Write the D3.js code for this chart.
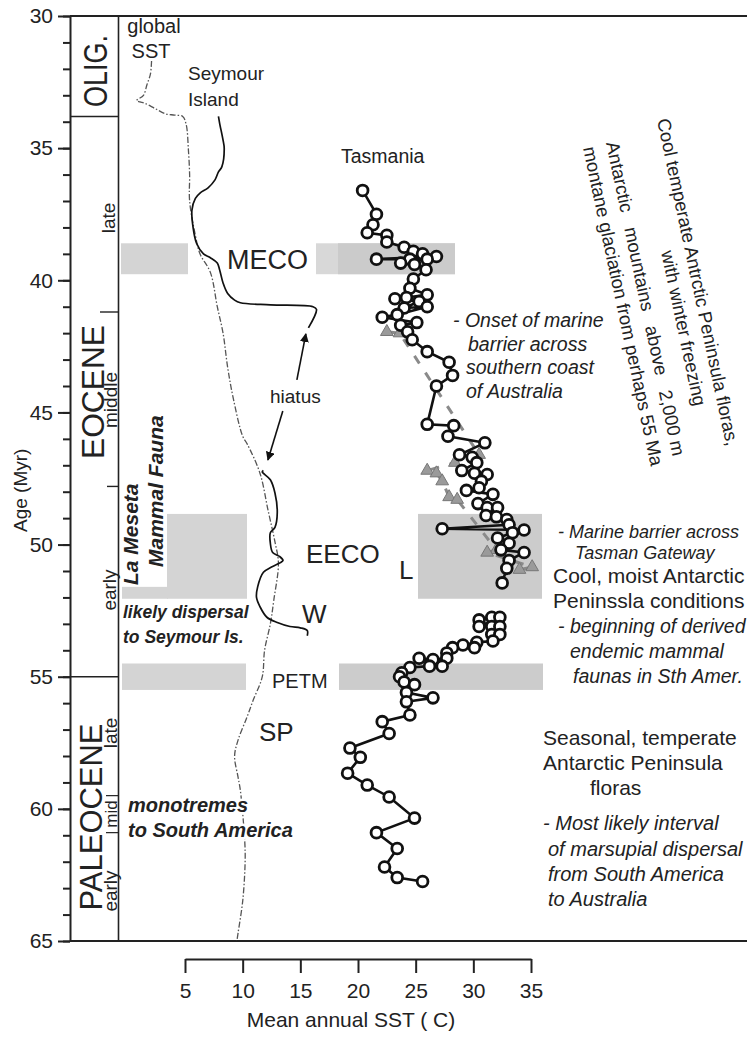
<!DOCTYPE html>
<html>
<head>
<meta charset="utf-8">
<script src="https://cdn.jsdelivr.net/npm/d3@7"></script>
<style>
  body { margin: 0; background: #fff; }
  svg { display: block; font-family: "Liberation Sans", Arial, sans-serif; }
</style>
</head>
<body>
<div id="chart"></div>
<script>
// axis ticks
const ageTicks = [30, 35, 40, 45, 50, 55, 60, 65];
const sstTicks = [5, 10, 15, 20, 25, 30, 35];

// [temperature C, age Myr]
const globalSST = [[2.1,31.7],[2.0,32.2],[1.7,32.6],[1.4,33.0],[0.8,33.2],[1.1,33.25],[1.5,33.3],[2.4,33.5],[3.3,33.7],[4.1,33.75],[4.8,33.8],[5.1,34.1],[5.3,35.1],[5.4,36.0],[5.4,37.0],[5.9,38.3],[6.3,39.0],[7.2,39.7],[7.8,41.0],[8.3,42.0],[8.7,43.3],[9.2,44.5],[10.0,45.9],[10.4,46.2],[11.5,47.3],[12.2,48.7],[12.8,49.9],[13.1,50.7],[12.7,52.1],[12.4,53.0],[11.9,54.0],[11.7,55.0],[10.9,55.9],[10.4,56.5],[9.6,57.4],[9.3,58.0],[9.6,58.8],[9.8,59.3],[10.2,61.4],[10.2,62.2],[10.0,63.5],[9.6,64.7],[9.5,65.0]];

const seymourLate = [[7.9,33.8],[8.0,34.05],[8.3,34.7],[8.4,35.0],[8.2,35.7],[7.9,35.9],[7.6,36.2],[7.0,36.5],[6.3,36.7],[5.9,36.9],[5.6,37.35],[5.7,38.0],[6.0,38.6],[6.6,39.0],[7.2,39.15],[7.8,39.35],[8.0,39.6],[8.3,40.1],[8.7,40.5],[9.3,40.75],[9.8,40.85],[12.4,40.93],[16.1,41.0],[16.4,41.1],[15.7,41.8]];
const seymourEarly = [[11.8,47.2],[11.7,47.25],[12.4,47.55],[12.8,48.05],[13.0,48.8],[12.8,49.35],[12.4,49.55],[12.4,49.95],[12.6,50.3],[13.2,50.45],[13.5,50.6],[13.2,50.7],[12.5,50.85],[11.8,51.05],[11.3,51.6],[11.2,52.0],[11.5,52.35],[12.1,52.75],[13.0,52.95],[14.1,53.1],[15.0,53.15],[15.6,53.25],[15.6,53.45]];

const tasmaniaUpper = [[20.4,36.6],[21.6,37.5],[21.3,37.9],[20.8,38.2],[22.5,38.3],[22.5,38.55],[24.0,38.75],[24.8,38.9],[25.6,39.0],[26.8,39.1],[21.6,39.2],[24.5,39.2],[26.0,39.2],[23.7,39.35],[24.9,39.4],[25.9,39.6],[24.8,39.95],[24.5,40.3],[26.0,40.55],[24.2,40.65],[23.2,40.7],[25.3,40.8],[24.0,41.05],[26.0,41.0],[23.4,41.3],[22.1,41.4],[25.1,41.6],[23.7,41.7],[24.3,41.95],[24.7,42.25],[26.0,42.7],[27.9,43.1],[28.2,43.6],[26.8,44.0],[26.0,45.45],[28.3,45.5],[27.8,45.9],[31.0,46.15],[28.8,46.6],[29.9,46.7],[30.3,46.9],[29.0,47.2],[30.1,47.3],[31.2,47.35],[30.7,47.6],[30.5,47.85],[29.4,47.95],[31.7,48.1],[30.4,48.45],[31.2,48.6],[32.1,48.6],[31.1,48.9],[32.0,48.95],[32.9,49.05],[33.1,49.25],[27.3,49.4],[34.4,49.45],[33.4,49.55],[32.1,49.75],[33.1,49.95],[32.4,50.2],[34.4,50.3],[33.1,50.6],[32.9,50.9],[32.5,51.45]];
const tasmaniaLower = [[30.5,52.85],[31.6,52.75],[32.3,52.75],[30.5,53.1],[31.6,53.1],[32.3,53.1],[31.6,53.4],[32.3,53.4],[31.7,53.65],[30.3,53.7],[29.1,53.8],[30.1,53.9],[28.2,53.9],[27.7,54.1],[27.7,54.3],[26.5,54.35],[25.3,54.3],[27.3,54.6],[26.2,54.6],[24.5,54.65],[23.8,54.85],[23.6,55.0],[24.0,55.2],[24.9,55.3],[24.2,55.6],[26.5,55.8],[24.2,55.95],[24.5,56.45],[22.1,56.7],[22.7,57.15],[19.3,57.7],[20.2,58.05],[19.1,58.65],[20.8,59.1],[22.7,59.55],[24.9,60.35],[21.6,60.9],[23.4,61.5],[22.3,62.2],[23.4,62.6],[25.6,62.75]];

const tasmaniaTri = [[22.5,41.95],[23.6,42.0],[30.5,46.6],[28.4,46.9],[26.0,47.2],[26.8,47.3],[27.3,47.6],[27.9,48.2],[28.6,48.3],[32.0,50.2],[31.2,50.3],[35.1,50.85],[34.0,50.95]];

// climatic events (age ranges, Myr)
const bandMECO = [38.6, 39.77];
const bandEECO = [48.84, 52.05];
const bandPETM = [54.5, 55.5];

// epoch column
const epochLines = [33.8, 55];
const subEpochLines = [41.2, 47.8];
const paleoMidLines = [59.5, 60.9];

const width = 747, height = 1037;
const svg = d3.select('#chart').append('svg')
    .attr('width', width)
    .attr('height', height);

const x = d3.scaleLinear([5, 35], [185, 531]);
const y = d3.scaleLinear([30, 65], [16, 941]);
const ink = '#222';

// grey bands, left column
const bandFill = '#d4d4d4';
svg.append('rect').attr('x', 121).attr('width', 67)
    .attr('y', y(bandMECO[0])).attr('height', y(bandMECO[1]) - y(bandMECO[0])).attr('fill', bandFill);
svg.append('rect').attr('x', 167).attr('width', 80)
    .attr('y', y(bandEECO[0])).attr('height', y(bandEECO[1]) - y(bandEECO[0])).attr('fill', bandFill);
svg.append('rect').attr('x', 122).attr('width', 46)
    .attr('y', y(51.6)).attr('height', y(bandEECO[1]) - y(51.6)).attr('fill', bandFill);
svg.append('rect').attr('x', 122).attr('width', 124)
    .attr('y', y(bandPETM[0])).attr('height', y(bandPETM[1]) - y(bandPETM[0])).attr('fill', bandFill);

// grey bands, Tasmania column
svg.append('rect').attr('x', 316).attr('width', 139)
    .attr('y', y(bandMECO[0])).attr('height', y(bandMECO[1]) - y(bandMECO[0])).attr('fill', '#d8d8d8');
svg.append('rect').attr('x', 338).attr('width', 117)
    .attr('y', y(bandMECO[0])).attr('height', y(bandMECO[1]) - y(bandMECO[0])).attr('fill', '#cbcbcb');
svg.append('rect').attr('x', 418).attr('width', 124)
    .attr('y', y(bandEECO[0])).attr('height', y(bandEECO[1]) - y(bandEECO[0])).attr('fill', '#cccccc');
svg.append('rect').attr('x', 339).attr('width', 204)
    .attr('y', y(bandPETM[0])).attr('height', y(bandPETM[1]) - y(bandPETM[0])).attr('fill', '#cccccc');

// frame
svg.append('line').attr('x1', 70).attr('x2', 747).attr('y1', y(30)).attr('y2', y(30))
    .attr('stroke', ink).attr('stroke-width', 2);
svg.append('line').attr('x1', 70).attr('x2', 747).attr('y1', y(65)).attr('y2', y(65))
    .attr('stroke', ink).attr('stroke-width', 2);

// Y axis
svg.append('g')
    .attr('transform', 'translate(70,0)')
    .call(d3.axisLeft(y).tickValues(d3.range(30, 66)).tickSize(7).tickSizeOuter(0).tickFormat(''))
    .call(g => g.selectAll('line,path').attr('stroke', ink).attr('stroke-width', 2));
svg.append('g')
    .attr('transform', 'translate(70,0)')
    .call(d3.axisLeft(y).tickValues(ageTicks).tickSize(12).tickPadding(5).tickSizeOuter(0))
    .call(g => g.select('.domain').remove())
    .call(g => g.selectAll('line').attr('stroke', ink).attr('stroke-width', 2))
    .call(g => g.selectAll('text').attr('font-size', 21).attr('fill', ink)
        .attr('font-family', '"Liberation Sans", Arial, sans-serif'));

svg.append('text')
    .attr('transform', 'translate(27,532) rotate(-90)')
    .attr('font-size', 19).attr('fill', ink)
    .text('Age (Myr)');

// X axis
svg.append('g')
    .attr('transform', 'translate(0,959)')
    .call(d3.axisBottom(x).tickValues(sstTicks).tickSize(14).tickPadding(10).tickSizeOuter(0))
    .call(g => g.selectAll('line,path').attr('stroke', ink).attr('stroke-width', 2))
    .call(g => g.selectAll('text').attr('font-size', 21).attr('fill', ink)
        .attr('font-family', '"Liberation Sans", Arial, sans-serif'));

svg.append('text')
    .attr('x', 351).attr('y', 1027)
    .attr('text-anchor', 'middle')
    .attr('font-size', 21).attr('fill', ink)
    .text('Mean annual SST ( C)');

// epoch column lines
svg.append('line').attr('x1', 118.5).attr('x2', 118.5).attr('y1', y(30)).attr('y2', y(65))
    .attr('stroke', ink).attr('stroke-width', 1.6);
svg.selectAll('.epoch-line').data(epochLines).join('line')
    .attr('x1', 70).attr('x2', 118.5).attr('y1', d => y(d)).attr('y2', d => y(d))
    .attr('stroke', ink).attr('stroke-width', 1.6);
svg.selectAll('.sub-line').data(subEpochLines).join('line')
    .attr('x1', (d, i) => i === 0 ? 100 : 107).attr('x2', 118.5)
    .attr('y1', d => y(d)).attr('y2', d => y(d))
    .attr('stroke', ink).attr('stroke-width', 1.4);
svg.selectAll('.mid-line').data(paleoMidLines).join('line')
    .attr('x1', 106).attr('x2', 118.5).attr('y1', d => y(d)).attr('y2', d => y(d))
    .attr('stroke', ink).attr('stroke-width', 1.2);

function vLabel(txt, cx, cy, size, len) {
  const t = svg.append('text')
      .attr('transform', `translate(${cx},${cy}) rotate(-90)`)
      .attr('text-anchor', 'middle')
      .attr('dy', '0.36em')
      .attr('font-size', size).attr('fill', ink)
      .text(txt);
  if (len) t.attr('textLength', len).attr('lengthAdjust', 'spacingAndGlyphs');
}
vLabel('OLIG.', 95, 71, 34, 72);
vLabel('EOCENE', 92, 392, 32, 134);
vLabel('PALEOCENE', 90, 817, 32, 187);
vLabel('late', 108, 218, 19);
vLabel('middle', 110, 400, 19);
vLabel('early', 109, 590, 19);
vLabel('late', 110, 733, 19);
vLabel('mid', 111, 814, 17);
vLabel('early', 110, 891, 19);

// global SST curve
const line = d3.line().x(d => x(d[0])).y(d => y(d[1]));
const smooth = d3.line().x(d => x(d[0])).y(d => y(d[1])).curve(d3.curveCatmullRom.alpha(0.5));

svg.append('path').datum(globalSST)
    .attr('d', smooth)
    .attr('fill', 'none').attr('stroke', '#555').attr('stroke-width', 1.3)
    .attr('stroke-dasharray', '6 2 1.5 2');

// Seymour Island curve
[seymourLate, seymourEarly].forEach(seg => {
  svg.append('path').datum(seg)
      .attr('d', smooth)
      .attr('fill', 'none').attr('stroke', '#111').attr('stroke-width', 1.7);
});

// Tasmania triangles with dashed line
svg.append('path').datum(tasmaniaTri)
    .attr('d', line)
    .attr('fill', 'none').attr('stroke', '#8a8a8a').attr('stroke-width', 3)
    .attr('stroke-dasharray', '9 11');
svg.selectAll('.tri').data(tasmaniaTri).join('path')
    .attr('transform', d => `translate(${x(d[0])},${y(d[1])})`)
    .attr('d', d3.symbol(d3.symbolTriangle, 70))
    .attr('fill', '#9a9a9a').attr('stroke', '#777').attr('stroke-width', 1);

// Tasmania circles
[tasmaniaUpper, tasmaniaLower].forEach(seg => {
  svg.append('path').datum(seg)
      .attr('d', line)
      .attr('fill', 'none').attr('stroke', '#111').attr('stroke-width', 2.6);
  svg.append('g').selectAll('circle').data(seg).join('circle')
      .attr('cx', d => x(d[0])).attr('cy', d => y(d[1]))
      .attr('r', 5.4)
      .attr('fill', '#fff').attr('stroke', '#111').attr('stroke-width', 2.8);
});

// hiatus arrows
svg.append('defs').append('marker')
    .attr('id', 'head').attr('viewBox', '0 0 10 10')
    .attr('refX', 9).attr('refY', 5)
    .attr('markerWidth', 9).attr('markerHeight', 9)
    .attr('markerUnits', 'userSpaceOnUse')
    .attr('orient', 'auto')
  .append('path').attr('d', 'M0,0 L10,5 L0,10 Z').attr('fill', '#111');
const hiatusArrows = [[[14.7, 43.77], [15.48, 42.03]], [[13.48, 44.95], [12.19, 46.8]]];
hiatusArrows.forEach(a => {
  svg.append('line')
      .attr('x1', x(a[0][0])).attr('y1', y(a[0][1]))
      .attr('x2', x(a[1][0])).attr('y2', y(a[1][1]))
      .attr('stroke', '#111').attr('stroke-width', 1.6)
      .attr('marker-end', 'url(#head)');
});

// text labels
function label(txt, px, py, size, opts = {}) {
  const t = svg.append('text')
      .attr('x', px).attr('y', py)
      .attr('font-size', size).attr('fill', ink)
      .attr('text-anchor', opts.anchor || 'start')
      .attr('font-style', opts.italic ? 'italic' : 'normal')
      .attr('font-weight', opts.bold ? 'bold' : 'normal')
      .text(txt);
  if (opts.halo) {
    t.attr('stroke', '#fff').attr('stroke-width', 5).attr('paint-order', 'stroke')
        .attr('stroke-linejoin', 'round');
  }
  return t;
}

label('global', 154, 33, 20, {anchor: 'middle'});
label('SST', 151, 58, 20, {anchor: 'middle'});
label('Seymour', 188, 80, 19);
label('Island', 188, 106, 19);
label('Tasmania', 341, 163, 19.5);
label('MECO', 227, 269, 27);
label('hiatus', 270, 403, 19);
label('EECO', 306, 563, 26);
label('L', 399, 579, 26);
label('W', 302, 623, 26);
label('PETM', 272, 688, 20);
label('SP', 259, 741, 26);

// left column, bold italic
svg.append('text').attr('transform', 'translate(138,585) rotate(-90)')
    .attr('font-size', 21).attr('font-weight', 'bold').attr('font-style', 'italic').attr('fill', ink)
    .text('La Meseta');
svg.append('text').attr('transform', 'translate(163,567) rotate(-90)')
    .attr('font-size', 21).attr('font-weight', 'bold').attr('font-style', 'italic').attr('fill', ink)
    .text('Mammal Fauna');
label('likely dispersal', 123, 618, 17.5, {bold: true, italic: true});
label('to Seymour Is.', 123, 643, 17.5, {bold: true, italic: true});
label('monotremes', 128, 812, 20, {bold: true, italic: true, halo: true});
label('to South America', 128, 837, 20, {bold: true, italic: true, halo: true});

// right side notes
label('- Onset of marine', 453, 327, 19.5, {italic: true});
label('barrier across', 468, 351, 19.5, {italic: true});
label('southern coast', 466, 374, 19.5, {italic: true});
label('of Australia', 466, 398, 19.5, {italic: true});

label('- Marine barrier across', 558, 538, 18, {italic: true});
label('Tasman Gateway', 575, 559, 18, {italic: true});
label('Cool, moist Antarctic', 553, 583, 21);
label('Peninssla conditions', 553, 608, 21);
label('- beginning of derived', 558, 633, 19.5, {italic: true});
label('endemic mammal', 570, 658, 19.5, {italic: true});
label('faunas in Sth Amer.', 573, 683, 19.5, {italic: true});

label('Seasonal, temperate', 543, 745, 21);
label('Antarctic Peninsula', 543, 770, 21);
label('floras', 590, 795, 21);
label('- Most likely interval', 543, 830, 20, {italic: true});
label('of marsupial dispersal', 548, 856, 20, {italic: true});
label('from South America', 548, 881, 20, {italic: true});
label('to Australia', 548, 906, 20, {italic: true});

// slanted notes, top right
const slanted = [
  ['Cool temperate Antrctic Peninsula floras,', 657, 120],
  ['with winter freezing', 661, 252],
  ['Antarctic   mountains   above   2,000 m', 606, 143],
  ['montane glaciation from perhaps 55 Ma', 583, 148]
];
slanted.forEach(s => {
  svg.append('text')
      .attr('transform', `translate(${s[1]},${s[2]}) rotate(78)`)
      .attr('font-size', 18.5).attr('fill', ink)
      .style('white-space', 'pre')
      .text(s[0]);
});
</script>
</body>
</html>
